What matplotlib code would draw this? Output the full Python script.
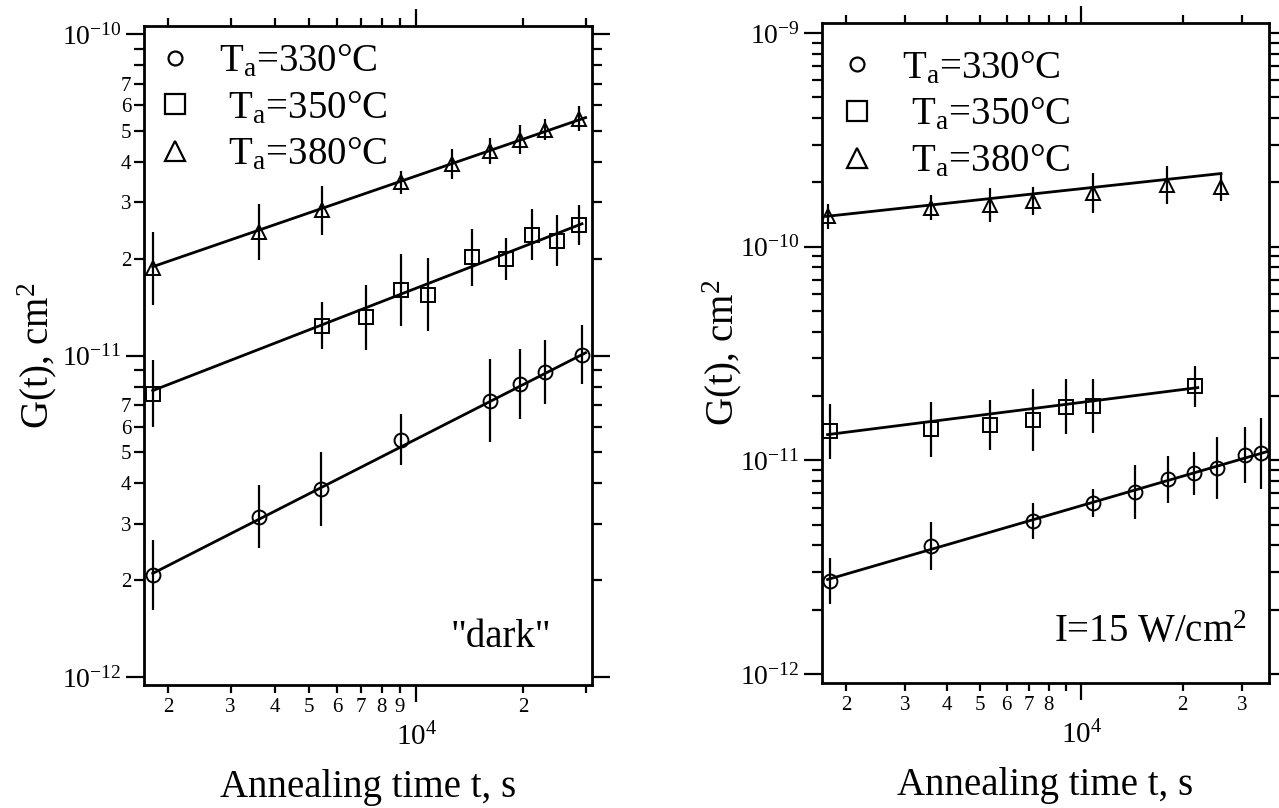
import numpy as np
import matplotlib
matplotlib.use('Agg')
import matplotlib.pyplot as plt
from matplotlib.ticker import FixedLocator, FuncFormatter
from matplotlib.lines import Line2D

plt.rcParams['font.family'] = ['Liberation Serif', 'DejaVu Serif']
plt.rcParams['mathtext.fontset'] = 'custom'
plt.rcParams['mathtext.rm'] = 'Liberation Serif'
plt.rcParams['mathtext.it'] = 'Liberation Serif:italic'
plt.rcParams['mathtext.bf'] = 'Liberation Serif:bold'
plt.rcParams['axes.linewidth'] = 2.0

# ---------------- data: left panel ("dark") ----------------
t330_L = [1811, 3597, 5410, 9040, 16100, 19600, 23100, 29300]
G330_L = [2.07e-12, 3.15e-12, 3.84e-12, 5.48e-12, 7.24e-12, 8.17e-12, 8.87e-12, 1.007e-11]
d330_L = [0.109, 0.098, 0.116, 0.080, 0.128, 0.109, 0.099, 0.091]

t350_L = [1811, 5436, 7230, 9080, 10760, 14380, 17900, 21240, 25000, 28700]
G350_L = [7.6e-12, 1.24e-11, 1.315e-11, 1.6e-11, 1.545e-11, 2.02e-11, 2.0e-11, 2.38e-11, 2.28e-11, 2.55e-11]
d350_L = [0.104, 0.073, 0.101, 0.111, 0.114, 0.088, 0.065, 0.080, 0.078, 0.062]

t380_L = [1811, 3597, 5436, 9040, 12600, 16100, 19600, 23100, 28700]
G380_L = [1.87e-11, 2.42e-11, 2.83e-11, 3.46e-11, 3.94e-11, 4.33e-11, 4.70e-11, 5.04e-11, 5.45e-11]
d380_L = [0.114, 0.088, 0.076, 0.036, 0.047, 0.039, 0.045, 0.033, 0.039]

fit330_L_t = [1811, 30000]
fit330_L_G = [2.1e-12, 1.02e-11]
fit350_L_t = [1811, 29300]
fit350_L_G = [7.78e-12, 2.57e-11]
fit380_L_t = [1811, 30000]
fit380_L_G = [1.89e-11, 5.5e-11]

# ---------------- data: right panel (I = 15 W/cm2) ----------------
t330_R = [1798, 3580, 7180, 10810, 14450, 18070, 21570, 25290, 30600, 34240]
G330_R = [2.72e-12, 3.97e-12, 5.2e-12, 6.34e-12, 7.1e-12, 8.15e-12, 8.7e-12, 9.2e-12, 1.06e-11, 1.08e-11]
d330_R = [0.109, 0.112, 0.086, 0.066, 0.125, 0.109, 0.101, 0.144, 0.133, 0.167]

t350_R = [1798, 3580, 5360, 7180, 9020, 10810, 21730]
G350_R = [1.37e-11, 1.40e-11, 1.47e-11, 1.55e-11, 1.78e-11, 1.80e-11, 2.22e-11]
d350_R = [0.129, 0.129, 0.117, 0.145, 0.129, 0.126, 0.097]

t380_R = [1774, 3580, 5360, 7180, 10810, 17990, 26000]
G380_R = [1.39e-10, 1.52e-10, 1.57e-10, 1.63e-10, 1.79e-10, 1.95e-10, 1.9e-10]
d380_R = [0.058, 0.058, 0.078, 0.066, 0.094, 0.089, 0.066]

fit330_R_t = [1763, 35700]
fit330_R_G = [2.77e-12, 1.10e-11]
fit350_R_t = [1763, 22180]
fit350_R_G = [1.32e-11, 2.19e-11]
fit380_R_t = [1750, 26000]
fit380_R_G = [1.387e-10, 2.2e-10]

legend_labels = ['T$_\\mathrm{a}$=330°C', ' T$_\\mathrm{a}$=350°C', ' T$_\\mathrm{a}$=380°C']
x_label = 'Annealing time t, s'
y_label = 'G(t), cm$^2$'

x_minor_ticks = [2000, 3000, 4000, 5000, 6000, 7000, 8000, 9000, 20000, 30000]
x_minor_labels_L = ['2', '3', '4', '5', '6', '7', '8', '9', '2', '']
x_minor_labels_R = ['2', '3', '4', '5', '6', '7', '8', '', '2', '3']

FS = 28


def draw_series(ax, t, G, d, marker, ms):
    t = np.asarray(t, float)
    G = np.asarray(G, float)
    d = np.asarray(d, float)
    lo = G - G / 10 ** d
    hi = G * 10 ** d - G
    ax.errorbar(t, G, yerr=[lo, hi], fmt='none', ecolor='black', elinewidth=1.6, capsize=0, zorder=2)
    ax.plot(t, G, linestyle='none', marker=marker, ms=ms, mfc='none', mec='black', mew=1.4, zorder=3)


def style_axes(ax, xlim, ylim, ymajors, ymajor_labels, yminor_label_set, xminor_labels):
    ax.set_xscale('log')
    ax.set_yscale('log')
    ax.set_xlim(*xlim)
    ax.set_ylim(*ylim)
    ax.xaxis.set_major_locator(FixedLocator([1e4]))
    ax.xaxis.set_major_formatter(FuncFormatter(lambda v, p: '$10^{4}$'))
    ax.xaxis.set_minor_locator(FixedLocator(x_minor_ticks))
    lab = dict(zip(x_minor_ticks, xminor_labels))
    ax.xaxis.set_minor_formatter(FuncFormatter(lambda v, p: lab.get(v, '')))
    ax.yaxis.set_major_locator(FixedLocator(ymajors))
    ymap = dict(zip(ymajors, ymajor_labels))
    ax.yaxis.set_major_formatter(FuncFormatter(lambda v, p: ymap.get(v, '')))
    yminors = []
    ymin_lab = {}
    for base in ymajors:
        for m in range(2, 10):
            v = m * base
            if ylim[0] < v < ylim[1]:
                yminors.append(v)
                ymin_lab[v] = str(m) if m in yminor_label_set else ''
    ax.yaxis.set_minor_locator(FixedLocator(yminors))
    ax.yaxis.set_minor_formatter(FuncFormatter(lambda v, p: ymin_lab.get(v, '')))
    ax.tick_params(which='both', direction='out', top=True, right=True,
                   labeltop=False, labelright=False, color='black')
    ax.tick_params(axis='y', which='major', length=13, width=1.6, pad=3, labelsize=20)
    ax.tick_params(axis='y', which='minor', length=7, width=1.6, pad=2, labelsize=15)
    ax.tick_params(axis='x', which='major', length=12, width=1.6, pad=15, labelsize=21)
    ax.tick_params(axis='x', which='minor', length=6, width=1.6, pad=3, labelsize=15)
    ax.set_xlabel(x_label, fontsize=FS)
    ax.set_ylabel(y_label, fontsize=FS)


def add_legend(ax, anchor):
    handles = [Line2D([], [], ls='none', marker='o', ms=10, mfc='none', mec='black', mew=1.6),
               Line2D([], [], ls='none', marker='s', ms=15, mfc='none', mec='black', mew=1.6),
               Line2D([], [], ls='none', marker='^', ms=15, mfc='none', mec='black', mew=1.6)]
    ax.legend(handles, legend_labels, loc='upper left', bbox_to_anchor=anchor, frameon=False,
              fontsize=FS, handlelength=1.0, handletextpad=0.65, labelspacing=0.25,
              borderaxespad=0, borderpad=0)


fig = plt.figure(figsize=(12.79, 8.08), dpi=100)
W, H = 1279.0, 808.0
ax1 = fig.add_axes([144 / W, 1 - 685 / H, 448 / W, 659 / H])
ax2 = fig.add_axes([822 / W, 1 - 683 / H, 447 / W, 660 / H])

# left panel
ax1.plot(fit330_L_t, fit330_L_G, color='black', lw=2.0, zorder=1)
ax1.plot(fit350_L_t, fit350_L_G, color='black', lw=2.0, zorder=1)
ax1.plot(fit380_L_t, fit380_L_G, color='black', lw=2.0, zorder=1)
draw_series(ax1, t330_L, G330_L, d330_L, 'o', 10)
draw_series(ax1, t350_L, G350_L, d350_L, 's', 10)
draw_series(ax1, t380_L, G380_L, d380_L, '^', 10)
style_axes(ax1, (1711, 31270), (0.944e-12, 1.06e-10),
           [1e-12, 1e-11, 1e-10], ['$10^{-12}$', '$10^{-11}$', '$10^{-10}$'],
           {2, 3, 4, 5, 6, 7}, x_minor_labels_L)
ax1.text(0.797, 0.072, '"dark"', transform=ax1.transAxes, fontsize=FS, ha='center', va='center')
add_legend(ax1, (0.025, 0.974))
ax1.xaxis.set_label_coords(0.5, -0.128)
ax1.yaxis.set_label_coords(-0.19, 0.5)

# right panel
ax2.plot(fit330_R_t, fit330_R_G, color='black', lw=2.0, zorder=1)
ax2.plot(fit350_R_t, fit350_R_G, color='black', lw=2.0, zorder=1)
ax2.plot(fit380_R_t, fit380_R_G, color='black', lw=2.0, zorder=1)
draw_series(ax2, t330_R, G330_R, d330_R, 'o', 10)
draw_series(ax2, t350_R, G350_R, d350_R, 's', 10)
draw_series(ax2, t380_R, G380_R, d380_R, '^', 10)
style_axes(ax2, (1697, 36100), (0.908e-12, 1.114e-9),
           [1e-12, 1e-11, 1e-10, 1e-9], ['$10^{-12}$', '$10^{-11}$', '$10^{-10}$', '$10^{-9}$'],
           set(), x_minor_labels_R)
ax2.text(0.734, 0.076, 'I=15 W/cm$^2$', transform=ax2.transAxes, fontsize=FS, ha='center', va='center')
add_legend(ax2, (0.035, 0.959))
ax2.xaxis.set_label_coords(0.5, -0.128)
ax2.yaxis.set_label_coords(-0.175, 0.5)

fig.savefig('out.png', dpi=100)
